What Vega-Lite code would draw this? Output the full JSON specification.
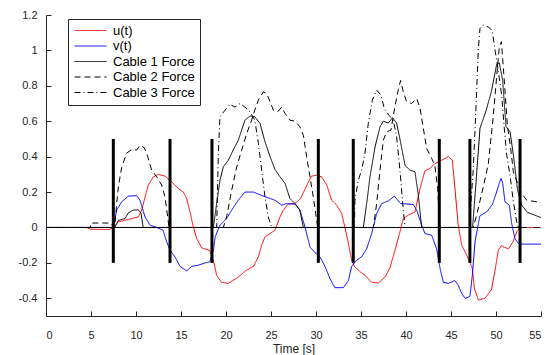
{
  "$schema": "https://vega.github.io/schema/vega-lite/v6.json",
  "width": 495,
  "height": 301,
  "autosize": {"type": "none"},
  "padding": {"left": 46, "top": 15, "right": 16, "bottom": 39},
  "background": "white",
  "config": {
    "view": {"stroke": null},
    "font": "Liberation Sans",
    "axis": {
      "grid": false,
      "domainColor": "#262626",
      "tickColor": "#262626",
      "labelColor": "#262626",
      "titleColor": "#262626",
      "labelFont": "Liberation Sans",
      "titleFont": "Liberation Sans",
      "labelFontSize": 11,
      "titleFontSize": 12,
      "titleFontWeight": "normal",
      "domainWidth": 1,
      "tickWidth": 1,
      "labelOverlap": false
    }
  },
  "datasets": {
    "series": [
      {"t": 0, "v": 0, "s": "u(t)"}, {"t": 4.5, "v": 0, "s": "u(t)"}, {"t": 5, "v": -0.01, "s": "u(t)"}, {"t": 7.0, "v": -0.012, "s": "u(t)"}, {"t": 7.48, "v": 0, "s": "u(t)"}, {"t": 8.04, "v": 0.032, "s": "u(t)"}, {"t": 9.15, "v": 0.045, "s": "u(t)"}, {"t": 10.26, "v": 0.06, "s": "u(t)"}, {"t": 10.63, "v": 0.098, "s": "u(t)"}, {"t": 11.0, "v": 0.17, "s": "u(t)"}, {"t": 11.37, "v": 0.24, "s": "u(t)"}, {"t": 11.93, "v": 0.286, "s": "u(t)"}, {"t": 12.48, "v": 0.3, "s": "u(t)"}, {"t": 13.22, "v": 0.29, "s": "u(t)"}, {"t": 13.96, "v": 0.258, "s": "u(t)"}, {"t": 14.7, "v": 0.22, "s": "u(t)"}, {"t": 15.26, "v": 0.2, "s": "u(t)"}, {"t": 15.63, "v": 0.164, "s": "u(t)"}, {"t": 16.0, "v": 0.088, "s": "u(t)"}, {"t": 16.37, "v": 0.003, "s": "u(t)"}, {"t": 16.74, "v": -0.062, "s": "u(t)"}, {"t": 17.3, "v": -0.115, "s": "u(t)"}, {"t": 18.2, "v": -0.13, "s": "u(t)"}, {"t": 18.6, "v": -0.185, "s": "u(t)"}, {"t": 18.96, "v": -0.27, "s": "u(t)"}, {"t": 19.5, "v": -0.31, "s": "u(t)"}, {"t": 20.26, "v": -0.316, "s": "u(t)"}, {"t": 21.37, "v": -0.28, "s": "u(t)"}, {"t": 22.3, "v": -0.24, "s": "u(t)"}, {"t": 23.04, "v": -0.22, "s": "u(t)"}, {"t": 23.6, "v": -0.166, "s": "u(t)"}, {"t": 23.96, "v": -0.1, "s": "u(t)"}, {"t": 24.33, "v": -0.053, "s": "u(t)"}, {"t": 24.9, "v": -0.034, "s": "u(t)"}, {"t": 25.44, "v": -0.015, "s": "u(t)"}, {"t": 26.0, "v": 0.06, "s": "u(t)"}, {"t": 26.37, "v": 0.098, "s": "u(t)"}, {"t": 26.9, "v": 0.132, "s": "u(t)"}, {"t": 27.67, "v": 0.135, "s": "u(t)"}, {"t": 28.3, "v": 0.164, "s": "u(t)"}, {"t": 28.9, "v": 0.23, "s": "u(t)"}, {"t": 29.5, "v": 0.29, "s": "u(t)"}, {"t": 30.07, "v": 0.295, "s": "u(t)"}, {"t": 30.63, "v": 0.286, "s": "u(t)"}, {"t": 31.19, "v": 0.24, "s": "u(t)"}, {"t": 31.74, "v": 0.154, "s": "u(t)"}, {"t": 32.3, "v": 0.126, "s": "u(t)"}, {"t": 32.85, "v": 0.079, "s": "u(t)"}, {"t": 33.2, "v": 0.003, "s": "u(t)"}, {"t": 33.6, "v": -0.09, "s": "u(t)"}, {"t": 33.96, "v": -0.185, "s": "u(t)"}, {"t": 34.26, "v": -0.22, "s": "u(t)"}, {"t": 34.9, "v": -0.25, "s": "u(t)"}, {"t": 35.44, "v": -0.27, "s": "u(t)"}, {"t": 36.19, "v": -0.31, "s": "u(t)"}, {"t": 36.93, "v": -0.313, "s": "u(t)"}, {"t": 37.67, "v": -0.28, "s": "u(t)"}, {"t": 38.2, "v": -0.23, "s": "u(t)"}, {"t": 38.78, "v": -0.128, "s": "u(t)"}, {"t": 39.3, "v": -0.03, "s": "u(t)"}, {"t": 39.7, "v": 0.05, "s": "u(t)"}, {"t": 40.26, "v": 0.07, "s": "u(t)"}, {"t": 41.0, "v": 0.088, "s": "u(t)"}, {"t": 41.56, "v": 0.22, "s": "u(t)"}, {"t": 42.1, "v": 0.32, "s": "u(t)"}, {"t": 42.67, "v": 0.333, "s": "u(t)"}, {"t": 43.2, "v": 0.36, "s": "u(t)"}, {"t": 43.96, "v": 0.38, "s": "u(t)"}, {"t": 44.7, "v": 0.4, "s": "u(t)"}, {"t": 45.15, "v": 0.38, "s": "u(t)"}, {"t": 45.44, "v": 0.22, "s": "u(t)"}, {"t": 45.8, "v": 0.013, "s": "u(t)"}, {"t": 46.19, "v": -0.1, "s": "u(t)"}, {"t": 46.74, "v": -0.156, "s": "u(t)"}, {"t": 47.37, "v": -0.23, "s": "u(t)"}, {"t": 47.6, "v": -0.345, "s": "u(t)"}, {"t": 48.04, "v": -0.41, "s": "u(t)"}, {"t": 48.78, "v": -0.4, "s": "u(t)"}, {"t": 49.5, "v": -0.35, "s": "u(t)"}, {"t": 49.9, "v": -0.24, "s": "u(t)"}, {"t": 50.26, "v": -0.128, "s": "u(t)"}, {"t": 50.63, "v": -0.1, "s": "u(t)"}, {"t": 50.8, "v": -0.11, "s": "u(t)"}, {"t": 51.4, "v": -0.12, "s": "u(t)"}, {"t": 51.9, "v": -0.08, "s": "u(t)"}, {"t": 52.3, "v": -0.025, "s": "u(t)"}, {"t": 52.67, "v": 0, "s": "u(t)"}, {"t": 55, "v": 0, "s": "u(t)"},

      {"t": 0, "v": 0, "s": "v(t)"}, {"t": 7.48, "v": 0, "s": "v(t)"}, {"t": 7.85, "v": 0.098, "s": "v(t)"}, {"t": 8.41, "v": 0.145, "s": "v(t)"}, {"t": 9.15, "v": 0.177, "s": "v(t)"}, {"t": 10.07, "v": 0.18, "s": "v(t)"}, {"t": 10.44, "v": 0.154, "s": "v(t)"}, {"t": 11.0, "v": 0.06, "s": "v(t)"}, {"t": 11.56, "v": 0.013, "s": "v(t)"}, {"t": 12.3, "v": 0, "s": "v(t)"}, {"t": 13.0, "v": -0.015, "s": "v(t)"}, {"t": 13.4, "v": -0.08, "s": "v(t)"}, {"t": 13.78, "v": -0.128, "s": "v(t)"}, {"t": 14.33, "v": -0.166, "s": "v(t)"}, {"t": 14.9, "v": -0.22, "s": "v(t)"}, {"t": 15.63, "v": -0.245, "s": "v(t)"}, {"t": 16.19, "v": -0.22, "s": "v(t)"}, {"t": 16.93, "v": -0.213, "s": "v(t)"}, {"t": 17.67, "v": -0.2, "s": "v(t)"}, {"t": 18.2, "v": -0.194, "s": "v(t)"}, {"t": 18.6, "v": -0.128, "s": "v(t)"}, {"t": 18.8, "v": -0.053, "s": "v(t)"}, {"t": 19.33, "v": 0.013, "s": "v(t)"}, {"t": 20.07, "v": 0.05, "s": "v(t)"}, {"t": 20.63, "v": 0.098, "s": "v(t)"}, {"t": 21.37, "v": 0.154, "s": "v(t)"}, {"t": 22.1, "v": 0.2, "s": "v(t)"}, {"t": 23.04, "v": 0.2, "s": "v(t)"}, {"t": 24.15, "v": 0.177, "s": "v(t)"}, {"t": 25.44, "v": 0.154, "s": "v(t)"}, {"t": 26.19, "v": 0.126, "s": "v(t)"}, {"t": 26.74, "v": 0.135, "s": "v(t)"}, {"t": 27.67, "v": 0.132, "s": "v(t)"}, {"t": 28.2, "v": 0.1, "s": "v(t)"}, {"t": 28.78, "v": 0.003, "s": "v(t)"}, {"t": 29.33, "v": -0.11, "s": "v(t)"}, {"t": 29.9, "v": -0.143, "s": "v(t)"}, {"t": 30.44, "v": -0.166, "s": "v(t)"}, {"t": 31.0, "v": -0.22, "s": "v(t)"}, {"t": 31.56, "v": -0.29, "s": "v(t)"}, {"t": 32.1, "v": -0.34, "s": "v(t)"}, {"t": 33.04, "v": -0.34, "s": "v(t)"}, {"t": 33.6, "v": -0.3, "s": "v(t)"}, {"t": 33.96, "v": -0.22, "s": "v(t)"}, {"t": 34.5, "v": -0.185, "s": "v(t)"}, {"t": 35.07, "v": -0.166, "s": "v(t)"}, {"t": 35.63, "v": -0.12, "s": "v(t)"}, {"t": 36.19, "v": -0.034, "s": "v(t)"}, {"t": 36.74, "v": 0.079, "s": "v(t)"}, {"t": 37.3, "v": 0.135, "s": "v(t)"}, {"t": 38.04, "v": 0.15, "s": "v(t)"}, {"t": 38.7, "v": 0.177, "s": "v(t)"}, {"t": 39.4, "v": 0.135, "s": "v(t)"}, {"t": 40.8, "v": 0.13, "s": "v(t)"}, {"t": 41.19, "v": 0.098, "s": "v(t)"}, {"t": 41.74, "v": 0.013, "s": "v(t)"}, {"t": 42.1, "v": -0.034, "s": "v(t)"}, {"t": 42.85, "v": -0.044, "s": "v(t)"}, {"t": 43.4, "v": -0.12, "s": "v(t)"}, {"t": 43.78, "v": -0.23, "s": "v(t)"}, {"t": 44.15, "v": -0.31, "s": "v(t)"}, {"t": 44.7, "v": -0.316, "s": "v(t)"}, {"t": 45.44, "v": -0.3, "s": "v(t)"}, {"t": 45.8, "v": -0.326, "s": "v(t)"}, {"t": 46.19, "v": -0.373, "s": "v(t)"}, {"t": 46.56, "v": -0.4, "s": "v(t)"}, {"t": 47.1, "v": -0.39, "s": "v(t)"}, {"t": 47.37, "v": -0.27, "s": "v(t)"}, {"t": 47.67, "v": -0.08, "s": "v(t)"}, {"t": 48.2, "v": 0.065, "s": "v(t)"}, {"t": 48.96, "v": 0.088, "s": "v(t)"}, {"t": 49.6, "v": 0.13, "s": "v(t)"}, {"t": 50.0, "v": 0.19, "s": "v(t)"}, {"t": 50.37, "v": 0.25, "s": "v(t)"}, {"t": 50.56, "v": 0.277, "s": "v(t)"}, {"t": 50.74, "v": 0.25, "s": "v(t)"}, {"t": 51.0, "v": 0.145, "s": "v(t)"}, {"t": 51.48, "v": 0.126, "s": "v(t)"}, {"t": 51.74, "v": 0.023, "s": "v(t)"}, {"t": 52.1, "v": -0.062, "s": "v(t)"}, {"t": 52.48, "v": -0.09, "s": "v(t)"}, {"t": 52.67, "v": -0.094, "s": "v(t)"}, {"t": 55, "v": -0.094, "s": "v(t)"},

      {"t": 0, "v": 0, "s": "Cable 1 Force"}, {"t": 7.63, "v": 0, "s": "Cable 1 Force"}, {"t": 8.04, "v": 0.04, "s": "Cable 1 Force"}, {"t": 8.41, "v": 0.045, "s": "Cable 1 Force"}, {"t": 8.78, "v": 0.05, "s": "Cable 1 Force"}, {"t": 9.15, "v": 0.083, "s": "Cable 1 Force"}, {"t": 9.7, "v": 0.098, "s": "Cable 1 Force"}, {"t": 10.26, "v": 0.1, "s": "Cable 1 Force"}, {"t": 10.56, "v": 0.079, "s": "Cable 1 Force"}, {"t": 10.8, "v": 0, "s": "Cable 1 Force"}, {"t": 18.6, "v": 0, "s": "Cable 1 Force"}, {"t": 18.96, "v": 0.135, "s": "Cable 1 Force"}, {"t": 19.33, "v": 0.267, "s": "Cable 1 Force"}, {"t": 19.7, "v": 0.342, "s": "Cable 1 Force"}, {"t": 20.26, "v": 0.38, "s": "Cable 1 Force"}, {"t": 20.8, "v": 0.437, "s": "Cable 1 Force"}, {"t": 21.37, "v": 0.493, "s": "Cable 1 Force"}, {"t": 21.74, "v": 0.55, "s": "Cable 1 Force"}, {"t": 22.1, "v": 0.606, "s": "Cable 1 Force"}, {"t": 22.67, "v": 0.63, "s": "Cable 1 Force"}, {"t": 23.2, "v": 0.625, "s": "Cable 1 Force"}, {"t": 23.78, "v": 0.588, "s": "Cable 1 Force"}, {"t": 24.33, "v": 0.484, "s": "Cable 1 Force"}, {"t": 24.9, "v": 0.4, "s": "Cable 1 Force"}, {"t": 25.44, "v": 0.328, "s": "Cable 1 Force"}, {"t": 26.0, "v": 0.286, "s": "Cable 1 Force"}, {"t": 26.56, "v": 0.249, "s": "Cable 1 Force"}, {"t": 27.1, "v": 0.164, "s": "Cable 1 Force"}, {"t": 27.67, "v": 0.135, "s": "Cable 1 Force"}, {"t": 28.2, "v": 0.098, "s": "Cable 1 Force"}, {"t": 28.6, "v": 0, "s": "Cable 1 Force"}, {"t": 35.26, "v": 0, "s": "Cable 1 Force"}, {"t": 35.63, "v": 0.135, "s": "Cable 1 Force"}, {"t": 36.0, "v": 0.286, "s": "Cable 1 Force"}, {"t": 36.56, "v": 0.455, "s": "Cable 1 Force"}, {"t": 37.11, "v": 0.568, "s": "Cable 1 Force"}, {"t": 37.48, "v": 0.6, "s": "Cable 1 Force"}, {"t": 38.04, "v": 0.59, "s": "Cable 1 Force"}, {"t": 38.5, "v": 0.62, "s": "Cable 1 Force"}, {"t": 38.96, "v": 0.59, "s": "Cable 1 Force"}, {"t": 39.4, "v": 0.48, "s": "Cable 1 Force"}, {"t": 39.9, "v": 0.35, "s": "Cable 1 Force"}, {"t": 40.44, "v": 0.324, "s": "Cable 1 Force"}, {"t": 41.0, "v": 0.314, "s": "Cable 1 Force"}, {"t": 41.37, "v": 0.182, "s": "Cable 1 Force"}, {"t": 41.74, "v": 0, "s": "Cable 1 Force"}, {"t": 47.4, "v": 0, "s": "Cable 1 Force"}, {"t": 47.7, "v": 0.2, "s": "Cable 1 Force"}, {"t": 47.96, "v": 0.38, "s": "Cable 1 Force"}, {"t": 48.22, "v": 0.56, "s": "Cable 1 Force"}, {"t": 48.9, "v": 0.66, "s": "Cable 1 Force"}, {"t": 49.5, "v": 0.77, "s": "Cable 1 Force"}, {"t": 50.07, "v": 0.92, "s": "Cable 1 Force"}, {"t": 50.37, "v": 0.93, "s": "Cable 1 Force"}, {"t": 50.74, "v": 0.83, "s": "Cable 1 Force"}, {"t": 51.11, "v": 0.57, "s": "Cable 1 Force"}, {"t": 51.56, "v": 0.54, "s": "Cable 1 Force"}, {"t": 51.93, "v": 0.41, "s": "Cable 1 Force"}, {"t": 52.4, "v": 0.21, "s": "Cable 1 Force"}, {"t": 52.85, "v": 0.126, "s": "Cable 1 Force"}, {"t": 53.5, "v": 0.085, "s": "Cable 1 Force"}, {"t": 55, "v": 0.056, "s": "Cable 1 Force"},

      {"t": 0, "v": 0, "s": "Cable 2 Force"}, {"t": 4.9, "v": 0, "s": "Cable 2 Force"}, {"t": 5.0, "v": 0.025, "s": "Cable 2 Force"}, {"t": 7.2, "v": 0.025, "s": "Cable 2 Force"}, {"t": 7.5, "v": 0, "s": "Cable 2 Force"}, {"t": 7.63, "v": 0, "s": "Cable 2 Force"}, {"t": 7.85, "v": 0.135, "s": "Cable 2 Force"}, {"t": 8.04, "v": 0.23, "s": "Cable 2 Force"}, {"t": 8.41, "v": 0.34, "s": "Cable 2 Force"}, {"t": 8.96, "v": 0.42, "s": "Cable 2 Force"}, {"t": 9.52, "v": 0.44, "s": "Cable 2 Force"}, {"t": 10.07, "v": 0.437, "s": "Cable 2 Force"}, {"t": 10.44, "v": 0.465, "s": "Cable 2 Force"}, {"t": 10.93, "v": 0.45, "s": "Cable 2 Force"}, {"t": 11.3, "v": 0.4, "s": "Cable 2 Force"}, {"t": 11.74, "v": 0.324, "s": "Cable 2 Force"}, {"t": 12.3, "v": 0.286, "s": "Cable 2 Force"}, {"t": 12.85, "v": 0.24, "s": "Cable 2 Force"}, {"t": 13.22, "v": 0.173, "s": "Cable 2 Force"}, {"t": 13.52, "v": 0.06, "s": "Cable 2 Force"}, {"t": 13.67, "v": 0, "s": "Cable 2 Force"}, {"t": 19.7, "v": 0, "s": "Cable 2 Force"}, {"t": 20.07, "v": 0.06, "s": "Cable 2 Force"}, {"t": 20.63, "v": 0.21, "s": "Cable 2 Force"}, {"t": 21.19, "v": 0.342, "s": "Cable 2 Force"}, {"t": 21.74, "v": 0.437, "s": "Cable 2 Force"}, {"t": 22.3, "v": 0.531, "s": "Cable 2 Force"}, {"t": 22.85, "v": 0.606, "s": "Cable 2 Force"}, {"t": 23.2, "v": 0.663, "s": "Cable 2 Force"}, {"t": 23.6, "v": 0.72, "s": "Cable 2 Force"}, {"t": 24.15, "v": 0.766, "s": "Cable 2 Force"}, {"t": 24.52, "v": 0.757, "s": "Cable 2 Force"}, {"t": 24.9, "v": 0.71, "s": "Cable 2 Force"}, {"t": 25.26, "v": 0.663, "s": "Cable 2 Force"}, {"t": 25.74, "v": 0.653, "s": "Cable 2 Force"}, {"t": 26.19, "v": 0.68, "s": "Cable 2 Force"}, {"t": 26.56, "v": 0.644, "s": "Cable 2 Force"}, {"t": 27.1, "v": 0.606, "s": "Cable 2 Force"}, {"t": 27.67, "v": 0.6, "s": "Cable 2 Force"}, {"t": 28.2, "v": 0.57, "s": "Cable 2 Force"}, {"t": 28.6, "v": 0.52, "s": "Cable 2 Force"}, {"t": 28.96, "v": 0.4, "s": "Cable 2 Force"}, {"t": 29.33, "v": 0.286, "s": "Cable 2 Force"}, {"t": 29.7, "v": 0.173, "s": "Cable 2 Force"}, {"t": 29.96, "v": 0.079, "s": "Cable 2 Force"}, {"t": 30.19, "v": 0, "s": "Cable 2 Force"}, {"t": 36.37, "v": 0, "s": "Cable 2 Force"}, {"t": 36.74, "v": 0.135, "s": "Cable 2 Force"}, {"t": 37.11, "v": 0.324, "s": "Cable 2 Force"}, {"t": 37.48, "v": 0.493, "s": "Cable 2 Force"}, {"t": 37.85, "v": 0.54, "s": "Cable 2 Force"}, {"t": 38.33, "v": 0.55, "s": "Cable 2 Force"}, {"t": 38.7, "v": 0.663, "s": "Cable 2 Force"}, {"t": 39.15, "v": 0.78, "s": "Cable 2 Force"}, {"t": 39.4, "v": 0.83, "s": "Cable 2 Force"}, {"t": 39.7, "v": 0.766, "s": "Cable 2 Force"}, {"t": 40.07, "v": 0.71, "s": "Cable 2 Force"}, {"t": 40.63, "v": 0.7, "s": "Cable 2 Force"}, {"t": 41.19, "v": 0.729, "s": "Cable 2 Force"}, {"t": 41.56, "v": 0.672, "s": "Cable 2 Force"}, {"t": 41.93, "v": 0.559, "s": "Cable 2 Force"}, {"t": 42.3, "v": 0.446, "s": "Cable 2 Force"}, {"t": 42.85, "v": 0.39, "s": "Cable 2 Force"}, {"t": 43.2, "v": 0.352, "s": "Cable 2 Force"}, {"t": 43.52, "v": 0.22, "s": "Cable 2 Force"}, {"t": 43.67, "v": 0.07, "s": "Cable 2 Force"}, {"t": 43.78, "v": 0, "s": "Cable 2 Force"}, {"t": 47.48, "v": 0, "s": "Cable 2 Force"}, {"t": 47.85, "v": 0.07, "s": "Cable 2 Force"}, {"t": 48.22, "v": 0.15, "s": "Cable 2 Force"}, {"t": 48.59, "v": 0.23, "s": "Cable 2 Force"}, {"t": 49.15, "v": 0.36, "s": "Cable 2 Force"}, {"t": 49.7, "v": 0.63, "s": "Cable 2 Force"}, {"t": 50.07, "v": 0.85, "s": "Cable 2 Force"}, {"t": 50.37, "v": 1.02, "s": "Cable 2 Force"}, {"t": 50.6, "v": 1.05, "s": "Cable 2 Force"}, {"t": 50.89, "v": 0.85, "s": "Cable 2 Force"}, {"t": 51.26, "v": 0.58, "s": "Cable 2 Force"}, {"t": 51.63, "v": 0.446, "s": "Cable 2 Force"}, {"t": 51.93, "v": 0.314, "s": "Cable 2 Force"}, {"t": 52.48, "v": 0.239, "s": "Cable 2 Force"}, {"t": 52.85, "v": 0.192, "s": "Cable 2 Force"}, {"t": 53.41, "v": 0.154, "s": "Cable 2 Force"}, {"t": 55, "v": 0.141, "s": "Cable 2 Force"},

      {"t": 0, "v": 0, "s": "Cable 3 Force"}, {"t": 18.96, "v": 0, "s": "Cable 3 Force"}, {"t": 19.15, "v": 0.418, "s": "Cable 3 Force"}, {"t": 19.33, "v": 0.625, "s": "Cable 3 Force"}, {"t": 19.9, "v": 0.663, "s": "Cable 3 Force"}, {"t": 20.44, "v": 0.695, "s": "Cable 3 Force"}, {"t": 21.0, "v": 0.68, "s": "Cable 3 Force"}, {"t": 21.56, "v": 0.7, "s": "Cable 3 Force"}, {"t": 22.1, "v": 0.68, "s": "Cable 3 Force"}, {"t": 22.67, "v": 0.653, "s": "Cable 3 Force"}, {"t": 23.2, "v": 0.606, "s": "Cable 3 Force"}, {"t": 23.6, "v": 0.475, "s": "Cable 3 Force"}, {"t": 23.96, "v": 0.324, "s": "Cable 3 Force"}, {"t": 24.33, "v": 0.173, "s": "Cable 3 Force"}, {"t": 24.7, "v": 0.06, "s": "Cable 3 Force"}, {"t": 25.07, "v": 0, "s": "Cable 3 Force"}, {"t": 34.26, "v": 0, "s": "Cable 3 Force"}, {"t": 34.33, "v": 0.154, "s": "Cable 3 Force"}, {"t": 34.7, "v": 0.267, "s": "Cable 3 Force"}, {"t": 35.07, "v": 0.324, "s": "Cable 3 Force"}, {"t": 35.44, "v": 0.418, "s": "Cable 3 Force"}, {"t": 35.81, "v": 0.588, "s": "Cable 3 Force"}, {"t": 36.26, "v": 0.72, "s": "Cable 3 Force"}, {"t": 36.74, "v": 0.776, "s": "Cable 3 Force"}, {"t": 37.22, "v": 0.747, "s": "Cable 3 Force"}, {"t": 37.59, "v": 0.672, "s": "Cable 3 Force"}, {"t": 38.1, "v": 0.634, "s": "Cable 3 Force"}, {"t": 38.59, "v": 0.606, "s": "Cable 3 Force"}, {"t": 38.96, "v": 0.512, "s": "Cable 3 Force"}, {"t": 39.33, "v": 0.324, "s": "Cable 3 Force"}, {"t": 39.7, "v": 0.098, "s": "Cable 3 Force"}, {"t": 39.9, "v": 0, "s": "Cable 3 Force"}, {"t": 47.11, "v": 0, "s": "Cable 3 Force"}, {"t": 47.22, "v": 0.145, "s": "Cable 3 Force"}, {"t": 47.48, "v": 0.333, "s": "Cable 3 Force"}, {"t": 47.74, "v": 0.634, "s": "Cable 3 Force"}, {"t": 48.04, "v": 1.01, "s": "Cable 3 Force"}, {"t": 48.22, "v": 1.124, "s": "Cable 3 Force"}, {"t": 48.6, "v": 1.143, "s": "Cable 3 Force"}, {"t": 49.15, "v": 1.133, "s": "Cable 3 Force"}, {"t": 49.59, "v": 1.11, "s": "Cable 3 Force"}, {"t": 49.9, "v": 1.0, "s": "Cable 3 Force"}, {"t": 50.26, "v": 0.88, "s": "Cable 3 Force"}, {"t": 50.63, "v": 0.747, "s": "Cable 3 Force"}, {"t": 50.89, "v": 0.578, "s": "Cable 3 Force"}, {"t": 51.19, "v": 0.408, "s": "Cable 3 Force"}, {"t": 51.56, "v": 0.295, "s": "Cable 3 Force"}, {"t": 51.93, "v": 0.145, "s": "Cable 3 Force"}, {"t": 52.3, "v": 0.032, "s": "Cable 3 Force"}, {"t": 52.48, "v": 0, "s": "Cable 3 Force"}, {"t": 55, "v": 0, "s": "Cable 3 Force"}
    ],
    "bars": [
      {"t": 7.48, "lo": -0.2, "hi": 0.5}, {"t": 13.78, "lo": -0.2, "hi": 0.5}, {"t": 18.44, "lo": -0.2, "hi": 0.5}, {"t": 30.26, "lo": -0.2, "hi": 0.5}, {"t": 34.14, "lo": -0.2, "hi": 0.5}, {"t": 43.7, "lo": -0.2, "hi": 0.5}, {"t": 47.1, "lo": -0.2, "hi": 0.5}, {"t": 52.67, "lo": -0.2, "hi": 0.5}
    ],
    "zero": [{"t0": 0, "t1": 52.67, "y": 0}]
  },
  "layer": [
    {
      "data": {"name": "zero"},
      "mark": {"type": "rule", "color": "black", "strokeWidth": 1},
      "encoding": {
        "x": {"field": "t0", "type": "quantitative", "scale": {"domain": [0, 55], "nice": false}},
        "x2": {"field": "t1"},
        "y": {"field": "y", "type": "quantitative", "scale": {"domain": [-0.5, 1.2], "nice": false}}
      }
    },
    {
      "data": {"name": "series"},
      "mark": {"type": "line", "strokeWidth": 1},
      "encoding": {
        "x": {
          "field": "t", "type": "quantitative",
          "scale": {"domain": [0, 55], "nice": false},
          "axis": {"title": "Time [s]", "values": [0, 5, 10, 15, 20, 25, 30, 35, 40, 45, 50, 55], "tickSize": -5, "labelPadding": 18, "titlePadding": 3}
        },
        "y": {
          "field": "v", "type": "quantitative",
          "scale": {"domain": [-0.5, 1.2], "nice": false},
          "axis": {"title": null, "tickCount": 9, "format": ".1~f", "labelExpr": "replace(datum.label, '−', '-')", "tickSize": -5, "labelPadding": 14, "labelOverlap": false}
        },
        "color": {
          "field": "s", "type": "nominal",
          "scale": {"domain": ["u(t)", "v(t)", "Cable 1 Force", "Cable 2 Force", "Cable 3 Force"], "range": ["#ff0000", "#0000ff", "#000000", "#000000", "#000000"]},
          "legend": {
            "title": null, "orient": "none", "legendX": 22, "legendY": 4,
            "strokeColor": "#262626", "fillColor": "white", "padding": 5,
            "symbolType": "M-1,0H5.4", "symbolSize": 100, "symbolStrokeWidth": 1,
            "labelFontSize": 13, "labelColor": "#000000", "labelFont": "Liberation Sans",
            "rowPadding": 1.5, "labelOffset": 27, "labelLimit": 200
          }
        },
        "strokeDash": {
          "field": "s", "type": "nominal",
          "scale": {"domain": ["u(t)", "v(t)", "Cable 1 Force", "Cable 2 Force", "Cable 3 Force"], "range": [[1, 0], [1, 0], [1, 0], [6, 4], [6, 3, 1, 3]]},
          "legend": {
            "title": null, "orient": "none", "legendX": 22, "legendY": 4,
            "strokeColor": "#262626", "fillColor": "white", "padding": 5,
            "symbolType": "M-1,0H5.4", "symbolSize": 100, "symbolStrokeWidth": 1,
            "labelFontSize": 13, "labelColor": "#000000", "labelFont": "Liberation Sans",
            "rowPadding": 1.5, "labelOffset": 27, "labelLimit": 200
          }
        }
      }
    },
    {
      "data": {"name": "bars"},
      "mark": {"type": "rule", "color": "black", "strokeWidth": 3},
      "encoding": {
        "x": {"field": "t", "type": "quantitative"},
        "y": {"field": "lo", "type": "quantitative"},
        "y2": {"field": "hi"}
      }
    }
  ]
}
